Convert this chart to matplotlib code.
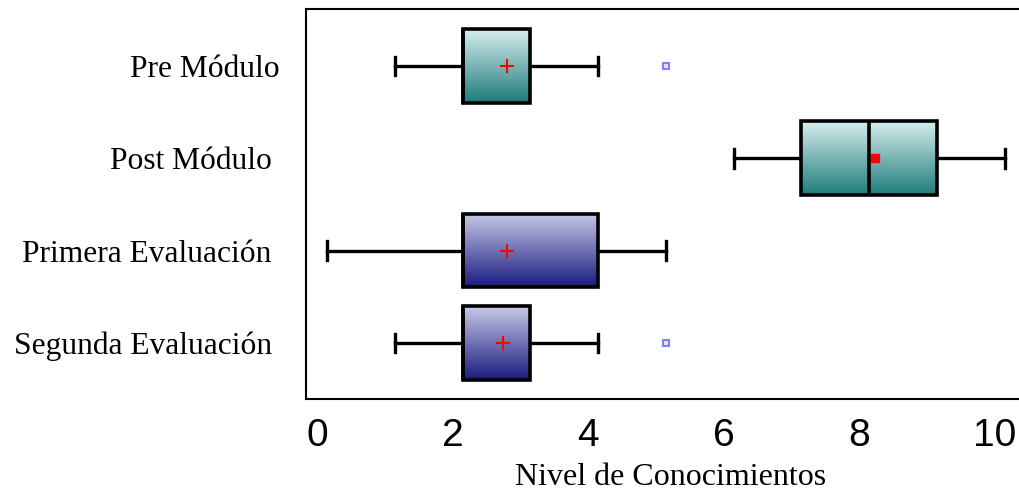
import matplotlib.pyplot as plt
import numpy as np
from matplotlib.colors import LinearSegmentedColormap
from matplotlib.transforms import ScaledTranslation

# Knowledge scores per assessment
labels = ['Pre Módulo', 'Post Módulo ', 'Primera Evaluación ', 'Segunda Evaluación ']
whisker_lo = [1, 6, 0, 1]
q1 = [2, 7, 2, 2]
medians = [2, 8, 2, 2]
q3 = [3, 9, 4, 3]
whisker_hi = [4, 10, 5, 4]
means = [2.65, 8.08, 2.65, 2.6]
outliers = [[5], [], [], [5]]

teal = LinearSegmentedColormap.from_list('teal', ['#d6eeee', '#1e7b7b'])
navy = LinearSegmentedColormap.from_list('navy', ['#c8cae8', '#1a1a80'])
box_cmaps = [teal, teal, navy, navy]
mean_markers = ['+', 's', '+', '+']

fig = plt.figure(figsize=(10.19, 4.94), dpi=100)
ax = fig.add_axes([306 / 1019, 1 - 399 / 494, 1 - 306 / 1019, 390 / 494])

positions = np.arange(len(labels))
stats = []
for i in range(len(labels)):
    stats.append({'whislo': whisker_lo[i], 'q1': q1[i], 'med': medians[i],
                  'q3': q3[i], 'whishi': whisker_hi[i], 'fliers': outliers[i],
                  'mean': means[i], 'label': labels[i]})

bp = ax.bxp(stats, positions=positions, widths=0.8, capwidths=0.2,
            orientation='horizontal', patch_artist=True, showmeans=False,
            boxprops=dict(facecolor='none', edgecolor='black', linewidth=2.6),
            whiskerprops=dict(color='black', linewidth=2.4),
            capprops=dict(color='black', linewidth=2.4),
            medianprops=dict(color='black', linewidth=2.6),
            flierprops=dict(marker='s', markersize=5, markerfacecolor='#e4e4ff',
                            markeredgecolor='#7f7fff', markeredgewidth=1.5))

# vertical gradient fill clipped to each box
grad = np.linspace(0, 1, 256).reshape(-1, 1)
for i, box in enumerate(bp['boxes']):
    box.set_zorder(3)
    img = ax.imshow(grad, cmap=box_cmaps[i], aspect='auto', origin='upper',
                    extent=(q1[i], q3[i], positions[i] + 0.4, positions[i] - 0.4),
                    zorder=2)
    img.set_clip_path(box)

for i in range(len(labels)):
    if mean_markers[i] == 's':
        ax.plot(means[i], positions[i], marker='s', color='red', markersize=6,
                linestyle='none', zorder=5)
    else:
        ax.plot(means[i], positions[i], marker='+', color='red', markersize=10,
                markeredgewidth=1.5, linestyle='none', zorder=5)

ax.set_xlim(-0.31, 10.21)
ax.set_ylim(3.61, -0.62)
ax.set_xticks([0, 2, 4, 6, 8, 10])
ax.set_yticks(positions)
ax.set_yticklabels(labels, family='Liberation Serif', fontsize=22.7)
ax.tick_params(axis='both', length=0)
ax.tick_params(axis='y', pad=19)
ax.tick_params(axis='x', pad=14)
for lab in ax.get_xticklabels():
    lab.set_family('Liberation Sans')
    lab.set_fontsize(28)
    lab.set_transform(lab.get_transform() + ScaledTranslation(-10 / 100, 0, fig.dpi_scale_trans))

ax.set_xlabel('Nivel de Conocimientos', family='Liberation Serif', fontsize=23, labelpad=8)
ax.xaxis.set_label_coords(0.512, -0.165)

for side in ['left', 'top', 'bottom']:
    ax.spines[side].set_linewidth(1.5)
ax.spines['right'].set_visible(False)

fig.savefig('out.png', dpi=100)
